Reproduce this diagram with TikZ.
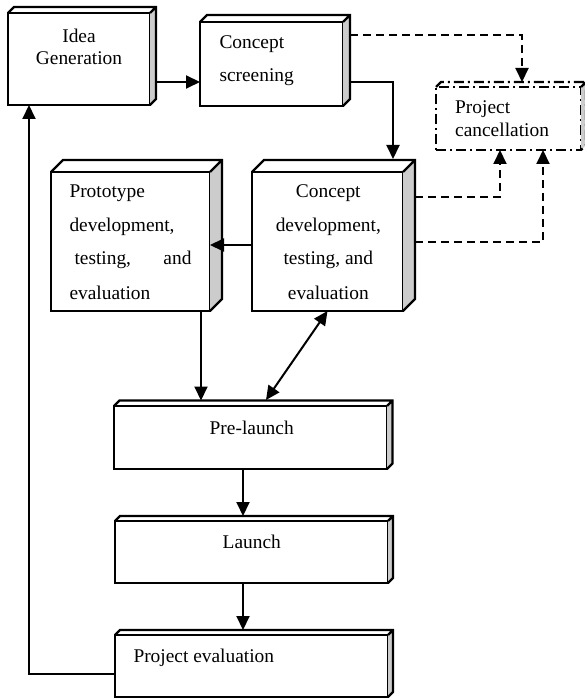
\documentclass[tikz,border=0pt]{standalone}
\usepackage{fontspec}
\setmainfont{Liberation Serif}
\usetikzlibrary{arrows.meta}
\definecolor{sidegray}{RGB}{204,204,204}
\newcommand\drawbevel[3][]{%
  \fill[sidegray] (#2.north east) -- ([shift={(#3,-#3)}]#2.north east) -- ([shift={(#3,-#3)}]#2.south east) -- (#2.south east) -- cycle;
  \draw[frame,#1] (#2.north west) -- ([shift={(#3,-#3)}]#2.north west) -- ([shift={(#3,-#3)}]#2.north east) -- ([shift={(#3,-#3)}]#2.south east) -- (#2.south east)
    (#2.north east) -- ([shift={(#3,-#3)}]#2.north east);
}
\begin{document}
\begin{tikzpicture}[x=1pt,y=-1pt,
  frame/.style={line width=2.2pt, line join=miter},
  front/.style={frame, draw, fill=white, rectangle, inner sep=0pt, outer sep=0pt},
  dashdot/.style={dash pattern=on 10pt off 4pt on 2pt off 4pt},
  arr/.style={line width=2pt, -{Triangle[length=14pt,width=13pt]}},
  darr/.style={line width=2pt, {Triangle[length=14pt,width=13pt]}-{Triangle[length=14pt,width=13pt]}},
  dasharr/.style={arr, dash pattern=on 8pt off 5pt},
  txt/.style={font=\fontsize{19.4}{24}\selectfont, inner sep=0pt, anchor=base},
  txtl/.style={txt, anchor=base west},
  txtr/.style={txt, anchor=base east}]
\useasboundingbox (0,0) rectangle (585,700);

% boxes (front faces)
\node[front, minimum width=142, minimum height=92] (idea) at (79,59) {};
\node[front, minimum width=143, minimum height=84] (screen) at (271.5,64) {};
\node[front, dashdot, minimum width=145, minimum height=63] (cancel) at (508.5,118.5) {};
\node[front, minimum width=159, minimum height=139] (proto) at (130.5,241.5) {};
\node[front, minimum width=151, minimum height=139] (cdev) at (327.5,241.5) {};
\node[front, minimum width=273, minimum height=63] (pre) at (250.5,437.5) {};
\node[front, minimum width=273, minimum height=62] (launch) at (251.5,552) {};
\node[front, minimum width=273, minimum height=62] (peval) at (251.5,666) {};

\drawbevel{idea}{6}
\drawbevel{screen}{7}
\drawbevel[dashdot]{cancel}{5}
\drawbevel{proto}{12}
\drawbevel{cdev}{12}
\drawbevel{pre}{5.5}
\drawbevel{launch}{5}
\drawbevel{peval}{5}

% texts
\node[txt] (ideaA) at (79,42.7) {Idea};
\node[txt] (ideaB) at (79,65) {Generation};
\node[txtl] (scrA) at (219.3,48.3) {Concept};
\node[txtl] (scrB) at (219.3,81.7) {screening};
\node[txtl] (canA) at (455,113.3) {Project};
\node[txtl] (canB) at (455,136.7) {cancellation};
\node[txtl] (proA) at (69.3,197.3) {Prototype};
\node[txtl] (proB) at (69.3,231.7) {development,};
\node[txtl] (proC) at (74.3,265) {testing,};
\node[txtr] (proD) at (191.7,265) {and};
\node[txtl] (proE) at (69.3,299.3) {evaluation};
\node[txt] (cdA) at (328.3,197.3) {Concept};
\node[txt] (cdB) at (328.3,231.7) {development,};
\node[txt] (cdC) at (328.3,265) {testing, and};
\node[txt] (cdD) at (328.3,299.3) {evaluation};
\node[txt] (preT) at (251.7,434) {Pre-launch};
\node[txt] (lauT) at (251.8,548.3) {Launch};
\node[txtl] (pevT) at (133.3,662) {Project evaluation};

% connector anchors
\coordinate (c1) at ([shift={(7,23)}]idea.east);
\coordinate (c2) at ([shift={(7,13)}]screen.north east);
\coordinate (c2e) at ([shift={(13.5,-5)}]cancel.north);
\coordinate (c3) at ([shift={(7,-24)}]screen.south east);
\coordinate (c3e) at ([shift={(65.5,-13)}]cdev.north);
\coordinate (c4) at ([shift={(12,25)}]cdev.north east);
\coordinate (c4e) at ([xshift=-8.5pt]cancel.south);
\coordinate (c5) at ([shift={(12,70)}]cdev.north east);
\coordinate (c5e) at ([xshift=34.5pt]cancel.south);
\coordinate (c6) at ([shift={(0,3.5)}]cdev.west);
\coordinate (c6e) at ([shift={(0,3.5)}]proto.east);
\coordinate (c7) at ([xshift=-9pt]proto.south east);
\coordinate (preTop) at ([yshift=5.5pt]pre.north);
\coordinate (c8e) at ([shift={(15.5,-6)}]pre.north);
\coordinate (c9) at ([xshift=-7.5pt]pre.south);
\coordinate (lauTop) at ([yshift=5pt]launch.north);
\coordinate (c10) at ([xshift=-8.5pt]launch.south);
\coordinate (pevTop) at ([yshift=5pt]peval.north);
\coordinate (c11) at ([yshift=-8pt]peval.west);
\coordinate (c11e) at ([xshift=-50pt]idea.south);

% connectors
\draw[arr] (c1) -- (c1 -| screen.west);
\draw[dasharr] (c2) -| (c2e);
\draw[arr] (c3) -| (c3e);
\draw[dasharr] (c4) -| (c4e);
\draw[dasharr] (c5) -| (c5e);
\draw[arr] (c6) -- (c6e);
\draw[arr] (c7) -- (c7 |- preTop);
\draw[darr] (cdev.south) -- (c8e);
\draw[arr] (c9) -- (c9 |- lauTop);
\draw[arr] (c10) -- (c10 |- pevTop);
\draw[arr] (c11) -| (c11e);
\end{tikzpicture}
\end{document}
